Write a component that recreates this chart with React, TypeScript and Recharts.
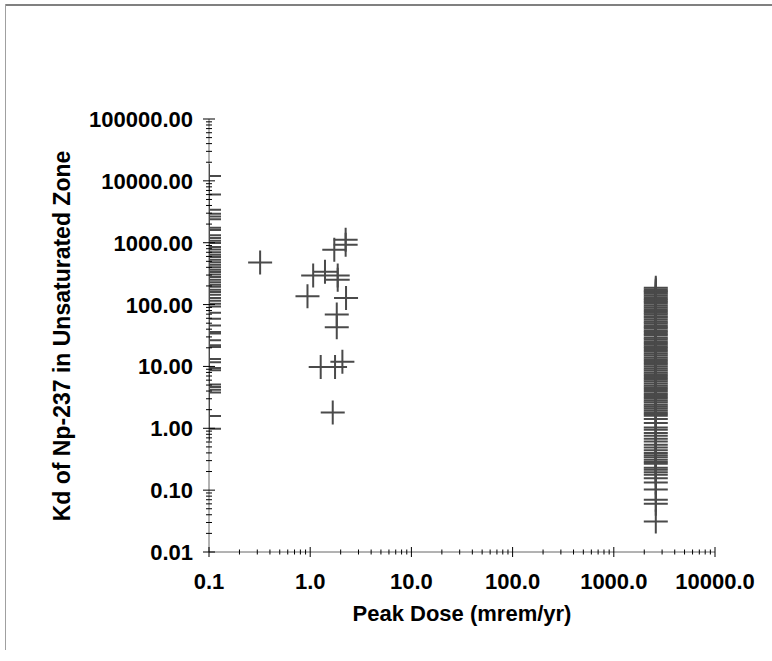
import React from 'react';
import { ScatterChart, Scatter, XAxis, YAxis, Label } from 'recharts';

// Kd 값 (x = 0.1 축에 붙어 있는 열)
const LEFT_EDGE_DOSE = 0.1;
const LEFT_EDGE_KD = [
  12000, 6000, 3400, 2950, 2650, 2400, 1750, 1600, 1320, 1190, 1080, 990, 850,
  775, 700, 640, 585, 530, 485, 440, 400, 365, 335, 305, 278, 252, 230, 210, 195,
  174, 160, 144, 128, 115, 103, 93, 74, 59, 46, 36, 34, 26.5, 22, 20.6, 13.2,
  11.7, 9.4, 8.7, 5.1, 4.65, 4.2, 3.8, 1.58, 0.98,
];

// 1~2 mrem/yr 부근의 점들
const CLUSTER_DOSE = [0.32, 2.24, 2.24, 1.73, 1.07, 1.4, 1.87, 1.87, 0.94, 2.26, 1.83, 1.83, 1.27, 1.76, 2.08, 1.67];
const CLUSTER_KD = [480, 1120, 930, 770, 296, 340, 296, 252, 136, 128, 69, 43, 9.8, 9.8, 11.9, 1.8];

// 약 2600 mrem/yr 에 몰려 있는 열
const RIGHT_COLUMN_DOSE = 2600;
const RIGHT_COLUMN_KD = [
  187, 176, 165, 158, 149, 140, 131, 123, 116, 110, 103, 96, 90, 84, 79, 74, 70,
  65, 61, 57, 53, 50, 46.5, 43.5, 41, 38, 36, 33.5, 31.5, 29, 27.5, 25.5, 24,
  22.5, 21, 19.8, 18.4, 17.2, 16, 15, 14, 13.1, 12.2, 11.4, 10.6, 9.9, 9.2, 8.6,
  8, 7.5, 7, 6.5, 6.1, 5.7, 5.3, 4.9, 4.6, 4.3, 4, 3.7, 3.45, 3.2, 3, 2.8, 2.6,
  2.4, 2.25, 2.1, 1.95, 1.82, 1.7, 1.6, 1.41, 1.22, 1.03, 0.95, 0.84, 0.76, 0.68,
  0.61, 0.54, 0.49, 0.44, 0.4, 0.365, 0.34, 0.31, 0.285, 0.267, 0.231, 0.214,
  0.194, 0.178, 0.155, 0.133, 0.102, 0.07, 0.06, 0.031,
];

// 축 눈금 (주눈금)
const X_MAJOR = [0.1, 1, 10, 100, 1000, 10000];
const Y_MAJOR = [0.01, 0.1, 1, 10, 100, 1000, 10000, 100000];

const withMinor = (majors: number[]) => {
  const out: number[] = [];
  majors.slice(0, -1).forEach((m) => {
    for (let d = 1; d < 10; d++) out.push(m * d);
  });
  out.push(majors[majors.length - 1]);
  return out;
};

const isMajor = (v: number) => {
  const l = Math.log10(v);
  return Math.abs(l - Math.round(l)) < 1e-6;
};

const points = [
  ...LEFT_EDGE_KD.map((kd) => ({ x: LEFT_EDGE_DOSE, y: kd })),
  ...CLUSTER_KD.map((kd, i) => ({ x: CLUSTER_DOSE[i], y: kd })),
  ...RIGHT_COLUMN_KD.map((kd) => ({ x: RIGHT_COLUMN_DOSE, y: kd })),
];

const FONT = '"Liberation Sans", Arial, sans-serif';
const MARK = '#4a4a4a';

const Cross = (props: any) => {
  const { cx, cy } = props;
  if (cx == null || cy == null) return null;
  return (
    <path
      d={`M${cx - 12},${cy}H${cx + 12}M${cx},${cy - 12}V${cy + 12}`}
      stroke={MARK}
      strokeWidth={2}
      fill="none"
    />
  );
};

const XTick = (props: any) => {
  const { x, y, payload } = props;
  const v = payload.value;
  const major = isMajor(v);
  const h = major ? 5 : 2.5;
  return (
    <g>
      <line x1={x} x2={x} y1={y - h} y2={y + h} stroke="#000" strokeWidth={1} />
      {major && (
        <text x={x} y={y + 37} textAnchor="middle" fontFamily={FONT} fontWeight="bold" fontSize={22} fill="#000">
          {v.toFixed(1)}
        </text>
      )}
    </g>
  );
};

const YTick = (props: any) => {
  const { x, y, payload } = props;
  const v = payload.value;
  const major = isMajor(v);
  const w = major ? 6 : 3;
  return (
    <g>
      <line x1={x - w} x2={x + w} y1={y} y2={y} stroke="#000" strokeWidth={1} />
      {major && (
        <text x={x - 16} y={y + 8} textAnchor="end" fontFamily={FONT} fontWeight="bold" fontSize={22} fill="#000">
          {v.toFixed(2)}
        </text>
      )}
    </g>
  );
};

export default function App() {
  return (
    <div style={{ position: 'absolute', left: 0, top: 0, width: 772, height: 661, background: '#fff' }}>
      {/* 바깥 테두리 */}
      <div style={{ position: 'absolute', left: 5, top: 4, width: 767, height: 2, background: '#808080' }} />
      <div style={{ position: 'absolute', left: 5, top: 4, width: 1, height: 646, background: '#a0a0a0' }} />

      <ScatterChart width={772} height={661} margin={{ top: 119, right: 57, bottom: 49, left: 149 }}>
        <XAxis
          type="number"
          dataKey="x"
          scale="log"
          domain={[0.1, 10000]}
          allowDataOverflow
          ticks={withMinor(X_MAJOR)}
          interval={0}
          tick={<XTick />}
          tickLine={false}
          tickSize={0}
          tickMargin={0}
          height={60}
          axisLine={{ stroke: '#666', strokeWidth: 1 }}
        >
          <Label
            content={() => (
              <text x={462} y={621} textAnchor="middle" fontFamily={FONT} fontWeight="bold" fontSize={22} fill="#000">
                Peak Dose (mrem/yr)
              </text>
            )}
          />
        </XAxis>
        <YAxis
          type="number"
          dataKey="y"
          scale="log"
          domain={[0.01, 100000]}
          allowDataOverflow
          ticks={withMinor(Y_MAJOR)}
          interval={0}
          tick={<YTick />}
          tickLine={false}
          tickSize={0}
          tickMargin={0}
          width={60}
          axisLine={{ stroke: '#666', strokeWidth: 1 }}
        >
          <Label
            content={() => (
              <text
                x={70}
                y={336}
                transform="rotate(-90, 70, 336)"
                textAnchor="middle"
                fontFamily={FONT}
                fontWeight="bold"
                fontSize={23}
                fill="#000"
              >
                Kd of Np-237 in Unsaturated Zone
              </text>
            )}
          />
        </YAxis>
        <Scatter data={points} shape={<Cross />} isAnimationActive={false} />
      </ScatterChart>
    </div>
  );
}
